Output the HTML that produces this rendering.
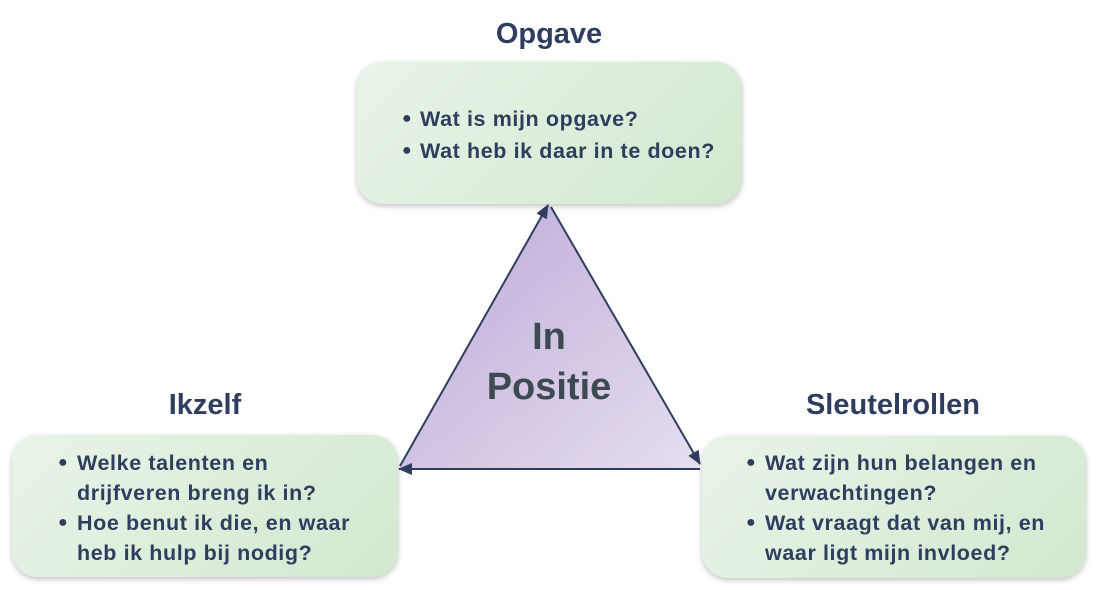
<!DOCTYPE html>
<html><head><meta charset="utf-8"><style>
body{margin:0;width:1098px;height:590px;background:#fff;position:relative;overflow:hidden;font-family:"Liberation Sans",sans-serif;color:#2f3e5e}
.box{position:absolute;border-radius:26px;background:linear-gradient(135deg,#e9f4e8,#d2e8d0);box-shadow:0 2px 6px rgba(0,0,0,.25)}
.t{position:absolute;font-weight:bold;font-size:29px;text-align:center;width:300px}
.l{position:absolute;font-size:21.5px;font-weight:bold;line-height:30px;white-space:nowrap;letter-spacing:0.6px}
.b{position:absolute;font-size:16px;line-height:30px}
</style></head><body>
<div class="t" style="left:399px;top:18px">Opgave</div>
<div class="t" style="left:55px;top:389px">Ikzelf</div>
<div class="t" style="left:743px;top:389px">Sleutelrollen</div>
<div class="box" style="left:357px;top:62px;width:385px;height:142px"></div>
<div class="box" style="left:12px;top:435px;width:386px;height:142px"></div>
<div class="box" style="left:702px;top:436px;width:384px;height:142px"></div>
<svg style="position:absolute;left:0;top:0" width="1098" height="590">
<defs><linearGradient id="g" x1="0" y1="0" x2="1" y2="1"><stop offset="0" stop-color="#bba9d6"/><stop offset="1" stop-color="#e6def0"/></linearGradient>
<marker id="a" markerWidth="14" markerHeight="12" refX="13" refY="6" orient="auto" markerUnits="userSpaceOnUse"><path d="M0,0 L14,6 L0,12z" fill="#2f3e5e"/></marker></defs>
<polygon points="549,204 398,470 701,468" fill="url(#g)"/>
<line x1="400" y1="466" x2="548" y2="205" stroke="#2f3e5e" stroke-width="2" marker-end="url(#a)"/>
<line x1="551" y1="207" x2="700" y2="464" stroke="#2f3e5e" stroke-width="2" marker-end="url(#a)"/>
<line x1="700" y1="469" x2="399" y2="469" stroke="#2f3e5e" stroke-width="2" marker-end="url(#a)"/>
<text x="549" y="349" text-anchor="middle" font-family="Liberation Sans" font-weight="bold" font-size="38" fill="#3d4a52">In</text>
<text x="549" y="399" text-anchor="middle" font-family="Liberation Sans" font-weight="bold" font-size="38" fill="#3d4a52">Positie</text>
</svg>
<div class="b" style="left:402px;top:103px;line-height:32px">●<br>●</div>
<div class="l" style="left:420px;top:103px;line-height:32px">Wat is mijn opgave?<br>Wat heb ik daar in te doen?</div>
<div class="b" style="left:58px;top:448px">●<br><br>●</div>
<div class="l" style="left:77px;top:448px">Welke talenten en<br>drijfveren breng ik in?<br>Hoe benut ik die, en waar<br>heb ik hulp bij nodig?</div>
<div class="b" style="left:746px;top:448px">●<br><br>●</div>
<div class="l" style="left:765px;top:448px">Wat zijn hun belangen en<br>verwachtingen?<br>Wat vraagt dat van mij, en<br>waar ligt mijn invloed?</div>
</body></html>
